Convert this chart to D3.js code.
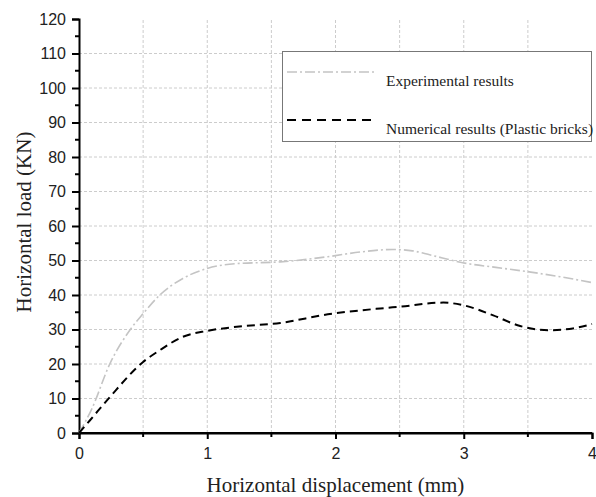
<!DOCTYPE html>
<html><head><meta charset="utf-8">
<script src="https://cdn.jsdelivr.net/npm/d3@7"></script>
<style>body{margin:0;background:#fff}svg{display:block}</style>
</head><body><div id="chart"></div>
<script>
const seriesNames = ["Experimental results", "Numerical results (Plastic bricks)"];
const expX = [0,0.1,0.24,0.4,0.5,0.63,0.81,1.0,1.23,1.57,1.94,2.2,2.45,2.6,2.74,3.0,3.25,3.51,3.75,4.0];
const expY = [0,7,20,30,34.6,40,44.8,47.7,49.1,49.6,51.1,52.5,53.2,52.8,51.6,49.3,48,46.7,45.3,43.6];
const numX = [0,0.086,0.24,0.5,0.63,0.81,1.0,1.23,1.57,1.94,2.35,2.5,2.84,3.0,3.23,3.44,3.67,3.85,4.0];
const numY = [0,3.7,10.4,20.6,24,27.9,29.6,30.8,31.9,34.4,36.1,36.6,37.8,37.0,34.1,31,29.8,30.3,31.6];
const xTicks = [0,1,2,3,4];
const yTicks = [0,10,20,30,40,50,60,70,80,90,100,110,120];
const xTitle = "Horizontal displacement (mm)";
const yTitle = "Horizontal load (KN)";

const W = 596, H = 497;
const m = {left:79, right:4, top:19, bottom:64};
const svg = d3.select("#chart").append("svg").attr("width", W).attr("height", H);
const x = d3.scaleLinear().domain([0,4]).range([m.left, W - m.right]);
const y = d3.scaleLinear().domain([0,120]).range([H - m.bottom, m.top]);

// grid
const grid = svg.append("g").attr("stroke", "#cccccc").attr("stroke-width", 1).attr("stroke-dasharray", "3,2");
d3.range(0.5, 4, 0.5).forEach(v => {
  grid.append("line").attr("x1", x(v)).attr("x2", x(v)).attr("y1", y(0)).attr("y2", y(120));
});
d3.range(10, 120, 10).forEach(v => {
  grid.append("line").attr("x1", x(0)).attr("x2", x(4)).attr("y1", y(v)).attr("y2", y(v));
});

// axes
const fontTick = "'Liberation Sans', Arial, sans-serif";
const xAxis = svg.append("g").attr("transform", `translate(0,${y(0)})`)
  .call(d3.axisBottom(x).tickValues(xTicks).tickFormat(d3.format("d")).tickSizeOuter(0).tickSize(6).tickPadding(9));
xAxis.append("g").selectAll("line").data(d3.range(0.5, 4, 1)).join("line")
  .attr("x1", d => x(d)).attr("x2", d => x(d)).attr("y1", 0).attr("y2", 4).attr("stroke", "#000").attr("stroke-width", 2);
const yAxis = svg.append("g").attr("transform", `translate(${x(0)},0)`)
  .call(d3.axisLeft(y).tickValues(yTicks).tickSizeOuter(0).tickSize(7).tickPadding(6));
yAxis.append("g").selectAll("line").data(d3.range(5, 120, 10)).join("line")
  .attr("y1", d => y(d)).attr("y2", d => y(d)).attr("x1", 0).attr("x2", -4).attr("stroke", "#000").attr("stroke-width", 2);
[xAxis, yAxis].forEach(a => {
  a.select(".domain").attr("stroke", "#000").attr("stroke-width", 2);
  a.selectAll(".tick line").attr("stroke", "#000").attr("stroke-width", 2);
  a.selectAll("text").attr("font-family", fontTick).attr("font-size", 16).attr("fill", "#222");
});
svg.append("line").attr("x1", x(0)-1).attr("x2", x(4)).attr("y1", y(0)).attr("y2", y(0)).attr("stroke","#000").attr("stroke-width",2);

// lines
const line = d3.line().curve(d3.curveMonotoneX).x(d => x(d[0])).y(d => y(d[1]));
const expData = expX.map((v,i) => [v, expY[i]]);
const numData = numX.map((v,i) => [v, numY[i]]);
svg.append("path").datum(expData).attr("d", line).attr("fill","none")
  .attr("stroke","#c4c4c4").attr("stroke-width",1.6).attr("stroke-dasharray","10,3,2,3");
svg.append("path").datum(numData).attr("d", line).attr("fill","none")
  .attr("stroke","#000").attr("stroke-width",2).attr("stroke-dasharray","8,5");

// legend
const serif = "'Liberation Serif', 'Times New Roman', serif";
const lg = svg.append("g");
lg.append("rect").attr("x", 282.5).attr("y", 51.5).attr("width", 309).attr("height", 90)
  .attr("fill", "#fff").attr("stroke", "#777").attr("stroke-width", 1);
lg.append("line").attr("x1", 287).attr("x2", 376).attr("y1", 72).attr("y2", 72)
  .attr("stroke","#c4c4c4").attr("stroke-width",1.6).attr("stroke-dasharray","10,3,2,3");
lg.append("line").attr("x1", 287).attr("x2", 376).attr("y1", 120).attr("y2", 120)
  .attr("stroke","#000").attr("stroke-width",2).attr("stroke-dasharray","9,6");
lg.append("text").attr("x", 386).attr("y", 86).text(seriesNames[0])
  .attr("font-family", serif).attr("font-size", 15.5).attr("fill", "#222");
lg.append("text").attr("x", 386).attr("y", 134).text(seriesNames[1])
  .attr("font-family", serif).attr("font-size", 15.5).attr("fill", "#222");

// titles
svg.append("text").attr("x", (x(0)+x(4))/2).attr("y", 492).attr("text-anchor","middle")
  .attr("font-family", serif).attr("font-size", 21).attr("fill", "#222").text(xTitle);
svg.append("text").attr("transform", `translate(31,222) rotate(-90)`).attr("text-anchor","middle")
  .attr("font-family", serif).attr("font-size", 21).attr("fill", "#222").text(yTitle);
</script>
</body></html>
